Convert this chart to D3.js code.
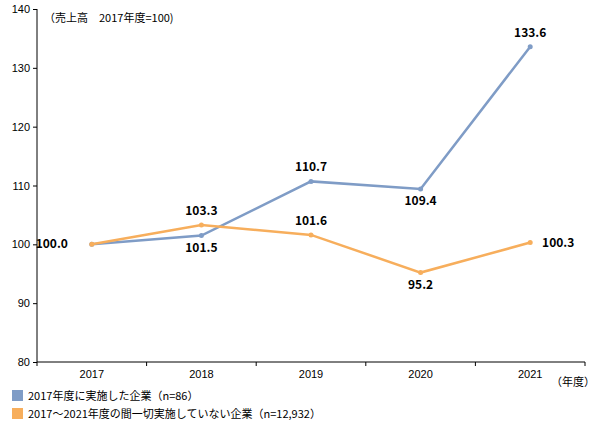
<!DOCTYPE html>
<html><head><meta charset="utf-8">
<script src="https://cdn.jsdelivr.net/npm/d3@7"></script>
<style>body{margin:0;background:#fff;font-family:"Noto Sans CJK JP","Noto Sans",sans-serif;}</style>
</head><body><svg id="c" width="596" height="423"></svg>
<script>
const years = ["2017", "2018", "2019", "2020", "2021"];
const implemented = [100.0, 101.5, 110.7, 109.4, 133.6];
const notImplemented = [100.0, 103.3, 101.6, 95.2, 100.3];
const yTicks = [80, 90, 100, 110, 120, 130, 140];
const legendLabels = ["2017年度に実施した企業（n=86）", "2017～2021年度の間一切実施していない企業（n=12,932）"];
const colors = ["#7f9cc6", "#f7ae5c"];

const svg = d3.select("#c");
const x = d3.scaleBand().domain(years).range([37, 585]);
const y = d3.scaleLinear().domain([80, 140]).range([362, 9]);

const xAxis = svg.append("g").attr("transform", "translate(0,362)")
  .call(d3.axisBottom(x).tickSize(4).tickFormat(d => d));
xAxis.selectAll(".tick line").remove();
x.domain().concat(["end"]).forEach((d, i) => {
  const px = 37 + i * x.bandwidth();
  xAxis.append("line").attr("x1", px).attr("x2", px).attr("y1", 0).attr("y2", 4).attr("stroke", "#000");
});
xAxis.select(".domain").attr("d", "M37,0H585");
xAxis.selectAll("text").attr("dy", 0).attr("y", 16).style("font-size", "11px").attr("fill", "#000");

const yAxis = svg.append("g").attr("transform", "translate(37,0)")
  .call(d3.axisLeft(y).tickValues(yTicks).tickSize(4));
yAxis.select(".domain").attr("d", "M0,9V362");
yAxis.selectAll("text").style("font-size", "11px").attr("fill", "#000").attr("x", -7);

svg.append("text").attr("x", 44).attr("y", 22).style("font-size", "11px").text("（売上高　2017年度=100)");
svg.append("text").attr("x", 551).attr("y", 386).style("font-size", "11px").text("（年度）");

const line = d3.line().x((d, i) => x(years[i]) + x.bandwidth() / 2).y(d => y(d));
const series = [implemented, notImplemented];
series.forEach((s, k) => {
  svg.append("path").datum(s).attr("d", line).attr("fill", "none")
    .attr("stroke", colors[k]).attr("stroke-width", 2.5);
  svg.selectAll(null).data(s).enter().append("circle")
    .attr("cx", (d, i) => x(years[i]) + x.bandwidth() / 2).attr("cy", d => y(d))
    .attr("r", 2.5).attr("fill", colors[k]);
});

// label offsets [dx, dy] per point
const offImpl = [[-40, 4], [0, 16], [0, -10], [0, 16], [0, -10]];
const offNot = [null, [0, -10], [0, -10], [0, 16], [28, 4]];
const labelAt = (s, offs) => s.forEach((d, i) => {
  if (!offs[i]) return;
  svg.append("text").attr("x", x(years[i]) + x.bandwidth() / 2 + offs[i][0])
    .attr("y", y(d) + offs[i][1]).attr("text-anchor", "middle")
    .style("font-size", "12px").style("font-weight", "bold").text(d.toFixed(1));
});
labelAt(implemented, offImpl);
labelAt(notImplemented, offNot);

legendLabels.forEach((t, k) => {
  svg.append("rect").attr("x", 12).attr("y", 390 + k * 18).attr("width", 11).attr("height", 11).attr("fill", colors[k]);
  svg.append("text").attr("x", 28).attr("y", 400 + k * 18).style("font-size", "11px").text(t);
});
</script></body></html>
